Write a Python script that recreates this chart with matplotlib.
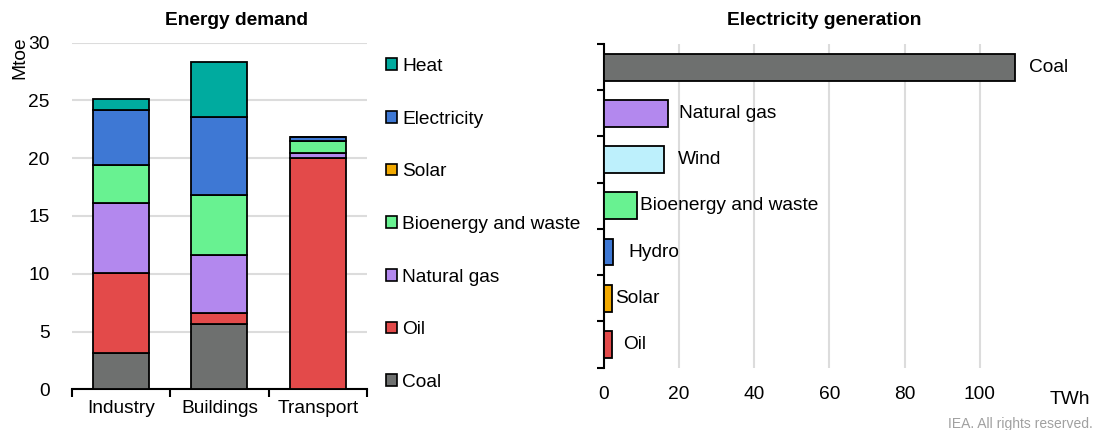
import matplotlib
matplotlib.use("Agg")
import matplotlib.pyplot as plt
from matplotlib.patches import Patch
import numpy as np

plt.rcParams['font.family'] = ['Liberation Sans', 'DejaVu Sans']

# ---- data ----
sectors = ["Industry", "Buildings", "Transport"]
demand_fuels = ["Coal", "Oil", "Natural gas", "Bioenergy and waste", "Electricity", "Heat"]
coal = [3.1, 5.65, 0.0]
oil = [7.0, 0.95, 20.05]
natural_gas = [6.0, 5.0, 0.4]
bioenergy = [3.3, 5.2, 1.05]
electricity = [4.8, 6.8, 0.3]
heat = [0.9, 4.75, 0.0]

legend_labels = ["Heat", "Electricity", "Solar", "Bioenergy and waste", "Natural gas", "Oil", "Coal"]

gen_sources = ["Coal", "Natural gas", "Wind", "Bioenergy and waste", "Hydro", "Solar", "Oil"]
gen_twh = [109.3, 16.9, 15.9, 8.9, 2.3, 2.1, 2.0]

# ---- style ----
colors = {
    "Coal": "#6e706f", "Oil": "#e34a4a", "Natural gas": "#b388ee",
    "Bioenergy and waste": "#68f291", "Electricity": "#3e78d4", "Heat": "#00ab9f",
    "Solar": "#f2a900", "Wind": "#bdf0fc", "Hydro": "#3e78d4",
}
label_offsets_pt = [10, 8, 10, 2, 11, 2, 8]
FS = 13.8

fig = plt.figure(figsize=(10.97, 4.30), dpi=100)

# Left: energy demand
ax1 = fig.add_axes([0.0654, 0.0947, 0.2692, 0.806])
series = [coal, oil, natural_gas, bioenergy, electricity, heat]
x = np.arange(len(sectors))
bottom = np.zeros(len(sectors))
for name, vals in zip(demand_fuels, series):
    ax1.bar(x, vals, bottom=bottom, width=0.57, color=colors[name],
            edgecolor="black", linewidth=1.3, zorder=3)
    bottom += np.array(vals)
ax1.set_xlim(-0.5, 2.5)
ax1.set_ylim(0, 30)
ax1.set_yticks([0, 5, 10, 15, 20, 25, 30])
ax1.yaxis.grid(True, color="#dcdcdc", linewidth=1.5, zorder=0)
ax1.set_axisbelow(True)
for s in ["left", "right", "top"]:
    ax1.spines[s].set_visible(False)
ax1.spines["bottom"].set_linewidth(1.5)
ax1.tick_params(axis="y", length=0, pad=16, labelsize=FS)
ax1.set_xticks(x)
ax1.set_xticklabels(sectors, fontsize=FS)
ax1.tick_params(axis="x", length=0, pad=8)
ax1.set_xticks([-0.5, 0.5, 1.5, 2.5], minor=True)
ax1.tick_params(axis="x", which="minor", length=6, width=1.5, direction="out")
fig.text(0.010, 0.915, "Mtoe", rotation=90, ha="left", va="top", fontsize=FS)
fig.text(0.216, 0.953, "Energy demand", ha="center", va="center", fontsize=13.8,
         fontweight="bold")

# Legend
handles = [Patch(facecolor=colors[n], edgecolor="black", linewidth=1.2) for n in legend_labels]
fig.legend(handles, legend_labels, loc="upper left", bbox_to_anchor=(0.352, 0.865),
           frameon=False, fontsize=FS, handlelength=0.55, handleheight=0.55,
           handletextpad=0.3, labelspacing=1.86, borderaxespad=0, borderpad=0)

# Right: electricity generation
ax2 = fig.add_axes([0.5506, 0.1449, 0.3974, 0.7528])
y = np.arange(len(gen_sources))
ax2.barh(y, gen_twh, height=0.58, color=[colors[s] for s in gen_sources],
         edgecolor="black", linewidth=1.3, zorder=3)
ax2.set_ylim(len(gen_sources) - 0.5, -0.5)
ax2.set_xlim(0, 116)
ax2.set_xticks([0, 20, 40, 60, 80, 100])
ax2.xaxis.grid(True, color="#dcdcdc", linewidth=1.5, zorder=0)
ax2.set_axisbelow(True)
for s in ["right", "top", "bottom"]:
    ax2.spines[s].set_visible(False)
ax2.spines["left"].set_linewidth(1.5)
ax2.tick_params(axis="x", length=0, pad=13, labelsize=FS)
ax2.set_yticks(np.arange(-0.5, len(gen_sources) + 0.5, 1))
ax2.set_yticklabels([])
ax2.tick_params(axis="y", length=5, width=1.5, direction="out")
for yi, v, name, off in zip(y, gen_twh, gen_sources, label_offsets_pt):
    ax2.annotate(name, xy=(v, yi), xytext=(off, 0), textcoords="offset points",
                 ha="left", va="center", fontsize=FS, annotation_clip=False)
fig.text(0.751, 0.953, "Electricity generation", ha="center", va="center",
         fontsize=13.8, fontweight="bold")
fig.text(0.975, 0.072, "TWh", ha="center", va="center", fontsize=FS)
fig.text(0.996, 0.015, "IEA. All rights reserved.", ha="right", va="center",
         fontsize=10, color="#a0a0a0")

fig.savefig("out.png", dpi=100)
